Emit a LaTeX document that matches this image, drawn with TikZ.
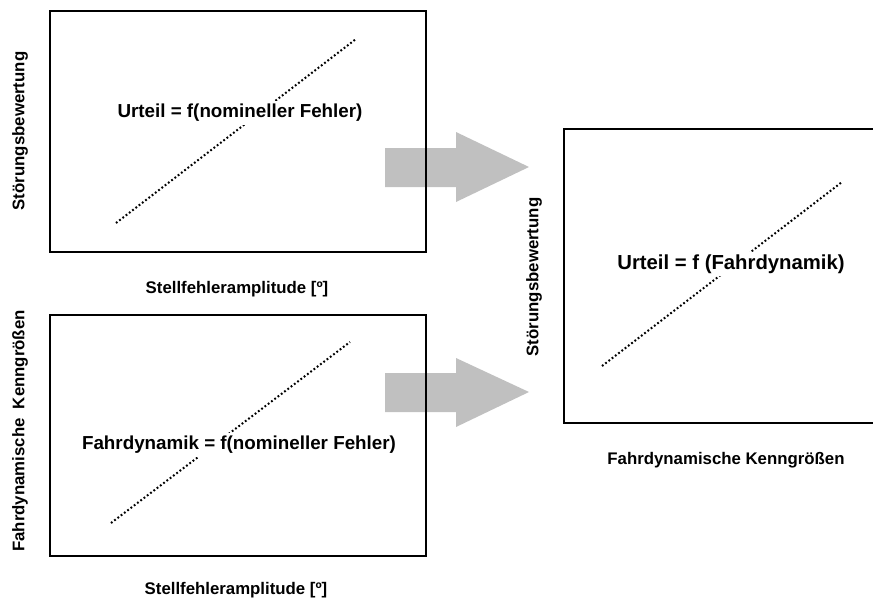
\documentclass[tikz,border=0pt]{standalone}
\usepackage{fontspec}
\setmainfont{Liberation Sans}
\definecolor{arrowgray}{RGB}{192,192,192}
\begin{document}
\begin{tikzpicture}[x=1pt,y=-1pt,
  box/.style={draw=black,line width=2pt},
  curve/.style={line width=2pt,dash pattern=on 1.8pt off 2.3pt},
  formula/.style={fill=white,inner sep=3pt,font=\bfseries\fontsize{18.8}{20}\selectfont},
  axislabel/.style={inner sep=0pt,font=\bfseries\fontsize{16.8}{18}\selectfont},
  blockarrow/.style={fill=arrowgray,draw=none}]
\useasboundingbox (0,0) rectangle (873,600);
% block arrows (behind boxes)
\fill[blockarrow] (385,148) -- (456,148) -- (456,132) -- (529,167) -- (456,202) -- (456,187) -- (385,187) -- cycle;
\fill[blockarrow] (385,373) -- (456,373) -- (456,358) -- (529,392) -- (456,427) -- (456,412) -- (385,412) -- cycle;
% boxes
\draw[box] (50,11) rectangle (426,252);
\draw[box] (50,315) rectangle (426,556);
\draw[box] (880,129) -- (564,129) -- (564,423) -- (880,423);
% dotted curves
\draw[curve] (116,223) -- (356,39);
\draw[curve] (111,523) -- (350,342);
\draw[curve] (602,366) -- (842,182);
% formulas
\node[formula] (f1) at (240,113) {Urteil = f(nomineller Fehler)};
\node[formula] (f2) at (239,445) {Fahrdynamik = f(nomineller Fehler)};
\node[formula,font=\bfseries\fontsize{20.3}{22}\selectfont] (f3) at (731,264) {Urteil = f (Fahrdynamik)};
% axis labels
\node[axislabel,rotate=90] (y1) at (20,131) {Störungsbewertung};
\node[axislabel] (x1) at (237,289) {Stellfehleramplitude [º]};
\node[axislabel,rotate=90] (y2) at (20,431) {Fahrdynamische\hspace{0.55em}Kenngrößen};
\node[axislabel] (x2) at (236,590.5) {Stellfehleramplitude [º]};
\node[axislabel,rotate=90] (y3) at (534,277) {Störungsbewertung};
\node[axislabel] (x3) at (726,460) {Fahrdynamische Kenngrößen};
\end{tikzpicture}
\end{document}
